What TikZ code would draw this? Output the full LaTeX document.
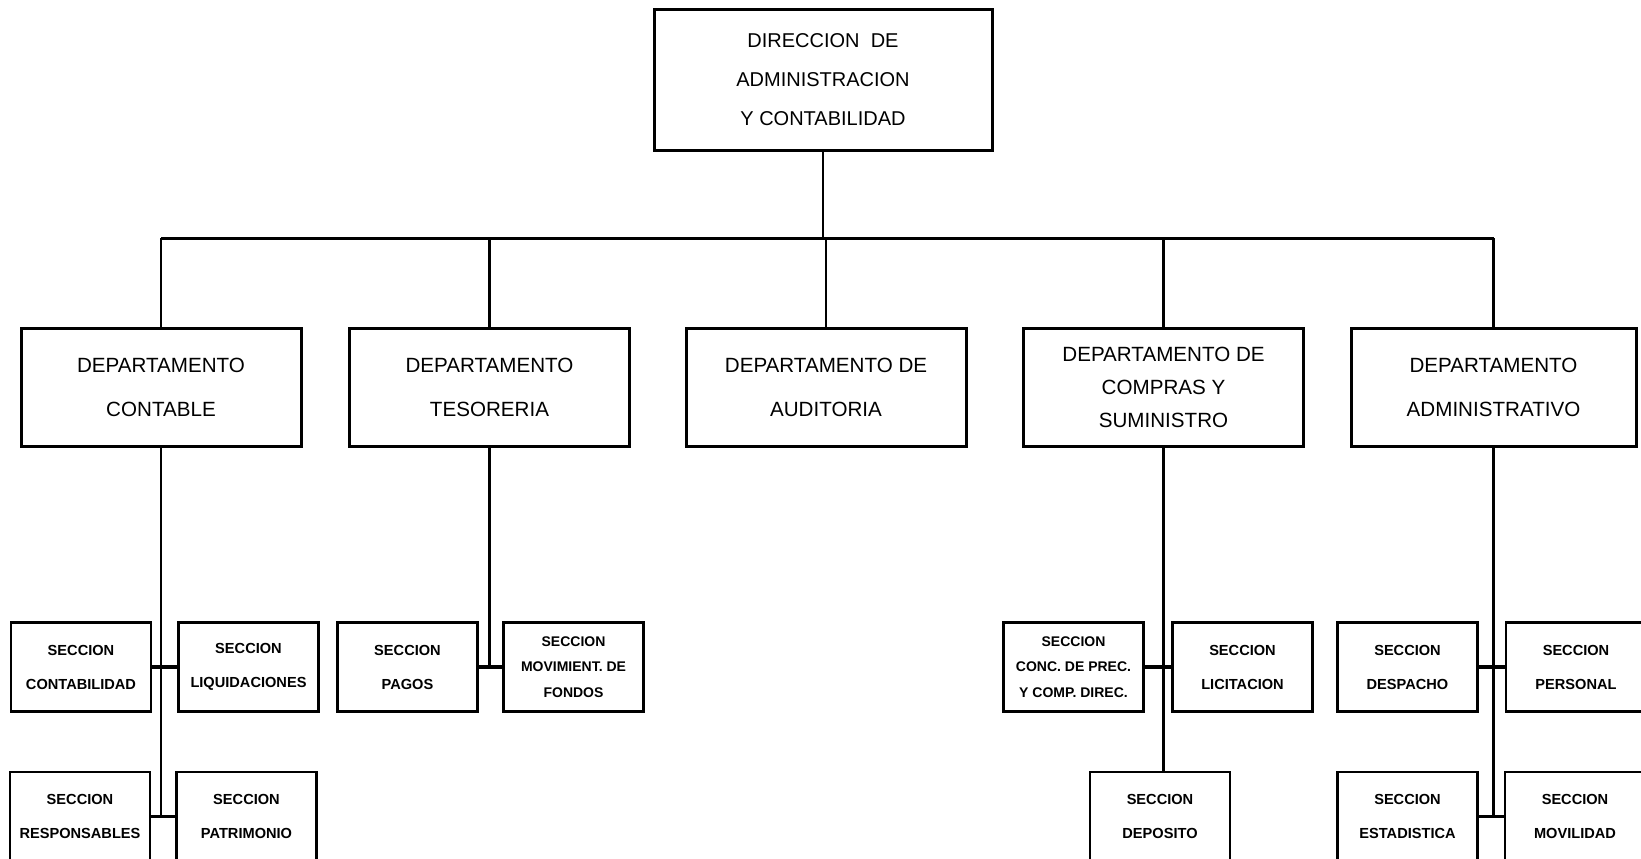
\documentclass[tikz,border=0pt]{standalone}
\usepackage{fontspec}
\setmainfont{Liberation Sans}
\usetikzlibrary{positioning}

\tikzset{
  dirbox/.style={draw, line width=1.5pt, minimum width=169pt, minimum height=70.5pt, inner sep=0pt, align=center, font=\fontsize{10}{19.5}\selectfont},
  deptbox/.style={draw, line width=1.5pt, minimum width=140pt, minimum height=59pt, inner sep=0pt, align=center, font=\fontsize{10.3}{22}\selectfont},
  deptbox3/.style={deptbox, font=\fontsize{10.3}{16.5}\selectfont},
  secbox/.style={draw, line width=1.3pt, minimum width=70pt, minimum height=44.5pt, inner sep=0pt, align=center, font=\bfseries\fontsize{7.3}{17}\selectfont},
  secbox3/.style={secbox, font=\bfseries\fontsize{7}{12.8}\selectfont},
  link/.style={line width=1.1pt},
  stub/.style={line width=1.7pt}
}

\begin{document}
\begin{tikzpicture}[x=0.5pt, y=-0.5pt]
\useasboundingbox[fill=white] (0,0) rectangle (1641,858);

\node[dirbox] (dir) at (823,80) {DIRECCION\ \ DE\\ADMINISTRACION\\Y CONTABILIDAD};

\node[deptbox] (contable) at (161,387) {DEPARTAMENTO\\CONTABLE};
\node[deptbox] (tesoreria) at (489.5,387) {DEPARTAMENTO\\TESORERIA};
\node[deptbox] (auditoria) at (826,387) {DEPARTAMENTO DE\\AUDITORIA};
\node[deptbox3] (compras) at (1163.5,387) {DEPARTAMENTO DE\\COMPRAS Y\\SUMINISTRO};
\node[deptbox, minimum width=142.5pt] (admin) at (1493.5,387) {DEPARTAMENTO\\ADMINISTRATIVO};

\node[secbox] (contab) at (81,667) {SECCION\\CONTABILIDAD};
\node[secbox] (liquid) at (248.5,667) {SECCION\\LIQUIDACIONES};
\node[secbox] (resp) at (80,816.5) {SECCION\\RESPONSABLES};
\node[secbox] (patrim) at (246.5,816.5) {SECCION\\PATRIMONIO};

\node[secbox] (pagos) at (407.5,667) {SECCION\\PAGOS};
\node[secbox3] (movim) at (573.5,667) {SECCION\\MOVIMIENT. DE\\FONDOS};

\node[secbox3] (conc) at (1073.5,667) {SECCION\\CONC. DE PREC.\\Y COMP. DIREC.};
\node[secbox] (licit) at (1242.5,667) {SECCION\\LICITACION};
\node[secbox] (depos) at (1160,816.5) {SECCION\\DEPOSITO};

\node[secbox] (despa) at (1407.5,667) {SECCION\\DESPACHO};
\node[secbox] (perso) at (1576,667) {SECCION\\PERSONAL};
\node[secbox] (estad) at (1407.5,816.5) {SECCION\\ESTADISTICA};
\node[secbox] (movil) at (1575,816.5) {SECCION\\MOVILIDAD};

\coordinate (bus) at (823,238);

\draw[link] (dir.south) -- (bus);
\draw[link, line width=1.5pt] (contable.north |- bus) -- (admin.north |- bus);
\draw[link] (contable.north) -- (contable.north |- bus);
\draw[link] (tesoreria.north) -- (tesoreria.north |- bus);
\draw[link] (auditoria.north) -- (auditoria.north |- bus);
\draw[link] (compras.north) -- (compras.north |- bus);
\draw[link] (admin.north) -- (admin.north |- bus);

\draw[link] (contable.south) -- (contable.south |- resp.east);
\draw[stub] (contab.east) -- (liquid.west);
\draw[stub] (resp.east) -- (patrim.west);

\draw[link] (tesoreria.south) -- (tesoreria.south |- pagos.east);
\draw[stub] (pagos.east) -- (movim.west);

\draw[link] (compras.south) -- (compras.south |- depos.north);
\draw[stub] (conc.east) -- (licit.west);

\draw[link] (admin.south) -- (admin.south |- estad.east);
\draw[stub] (despa.east) -- (perso.west);
\draw[stub] (estad.east) -- (movil.west);

\end{tikzpicture}
\end{document}
